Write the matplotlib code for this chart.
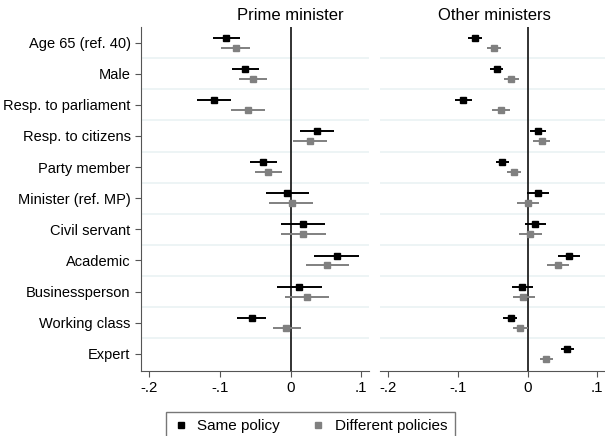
import numpy as np
import matplotlib
matplotlib.use("Agg")
import matplotlib.pyplot as plt
from matplotlib.lines import Line2D

plt.rcParams['font.family'] = ['Liberation Sans', 'DejaVu Sans']

labels = ["Age 65 (ref. 40)", "Male", "Resp. to parliament", "Resp. to citizens",
          "Party member", "Minister (ref. MP)", "Civil servant", "Academic",
          "Businessperson", "Working class", "Expert"]

# Prime minister panel: estimate, lower CI, upper CI
pm_same = [-0.092, -0.065, -0.108, 0.038, -0.039, -0.005, 0.017, 0.065, 0.012, -0.055, np.nan]
pm_same_lo = [-0.110, -0.083, -0.132, 0.013, -0.058, -0.035, -0.014, 0.033, -0.019, -0.076, np.nan]
pm_same_hi = [-0.072, -0.045, -0.085, 0.061, -0.019, 0.026, 0.048, 0.097, 0.044, -0.035, np.nan]
pm_diff = [-0.078, -0.053, -0.061, 0.028, -0.032, 0.002, 0.018, 0.052, 0.023, -0.006, np.nan]
pm_diff_lo = [-0.098, -0.073, -0.085, 0.003, -0.051, -0.030, -0.013, 0.022, -0.008, -0.025, np.nan]
pm_diff_hi = [-0.058, -0.033, -0.037, 0.052, -0.012, 0.032, 0.050, 0.083, 0.054, 0.014, np.nan]

# Other ministers panel
om_same = [-0.075, -0.044, -0.093, 0.015, -0.037, 0.015, 0.011, 0.060, -0.008, -0.024, 0.057]
om_same_lo = [-0.085, -0.054, -0.104, 0.003, -0.046, -0.001, -0.004, 0.044, -0.023, -0.035, 0.048]
om_same_hi = [-0.065, -0.035, -0.080, 0.026, -0.027, 0.030, 0.027, 0.075, 0.007, -0.016, 0.067]
om_diff = [-0.049, -0.024, -0.039, 0.020, -0.020, 0.000, 0.003, 0.043, -0.006, -0.011, 0.027]
om_diff_lo = [-0.058, -0.034, -0.051, 0.008, -0.030, -0.016, -0.013, 0.028, -0.021, -0.021, 0.017]
om_diff_hi = [-0.038, -0.013, -0.026, 0.032, -0.010, 0.016, 0.020, 0.059, 0.010, 0.000, 0.037]

xticks = [-0.2, -0.1, 0, 0.1]
xticklabels = ["-.2", "-.1", "0", ".1"]

BLACK = "#000000"
GRAY = "#808080"
GRID = "#eaf2f3"
SPINE = "#555555"

fig = plt.figure(figsize=(6.05, 4.36), dpi=100)
ax1 = fig.add_axes([141 / 605, 65 / 436, 228 / 605, 344 / 436])
ax2 = fig.add_axes([380 / 605, 65 / 436, 225 / 605, 344 / 436])

y = np.arange(len(labels))


def draw_panel(ax, same, same_lo, same_hi, diff, diff_lo, diff_hi, show_labels):
    for k in range(len(labels) - 1):
        ax.axhline(k + 0.5, color=GRID, lw=1.2, zorder=0)
    ax.axvline(0, color="#222222", lw=1.3, zorder=1)
    same = np.array(same); diff = np.array(diff)
    ax.hlines(y - 0.16, same_lo, same_hi, color=BLACK, lw=1.4, zorder=2)
    ax.plot(same, y - 0.16, "s", color=BLACK, ms=4.8, zorder=3)
    ax.hlines(y + 0.16, diff_lo, diff_hi, color=GRAY, lw=1.4, zorder=2)
    ax.plot(diff, y + 0.16, "s", color=GRAY, ms=4.6, zorder=3)
    ax.set_xlim(-0.212, 0.111)
    ax.set_ylim(10.55, -0.5)
    ax.set_xticks(xticks)
    ax.set_xticklabels(xticklabels, fontsize=10.8)
    for s in ["top", "right"]:
        ax.spines[s].set_visible(False)
    ax.spines["bottom"].set_color(SPINE)
    ax.tick_params(axis="x", colors=SPINE, labelcolor="black", length=4)
    if show_labels:
        ax.set_yticks(y)
        ax.set_yticklabels(labels, fontsize=10.5)
        ax.spines["left"].set_color(SPINE)
        ax.tick_params(axis="y", colors=SPINE, labelcolor="black", length=4)
    else:
        ax.set_yticks([])
        ax.spines["left"].set_visible(False)


draw_panel(ax1, pm_same, pm_same_lo, pm_same_hi,
           pm_diff, pm_diff_lo, pm_diff_hi, True)
draw_panel(ax2, om_same, om_same_lo, om_same_hi,
           om_diff, om_diff_lo, om_diff_hi, False)

# panel titles
fig.text(290 / 605, 1 - 15 / 436, "Prime minister", ha="center", va="center", fontsize=12)
fig.text(494 / 605, 1 - 15 / 436, "Other ministers", ha="center", va="center", fontsize=12)

handles = [Line2D([], [], marker="s", ls="none", color=BLACK, ms=4),
           Line2D([], [], marker="s", ls="none", color=GRAY, ms=4)]
leg = fig.legend(handles, ["Same policy", "Different policies"], loc="upper center",
                 bbox_to_anchor=(0.513, 0.072), ncol=2, fontsize=11, frameon=True,
                 fancybox=False, edgecolor=SPINE, handlelength=1.0, handletextpad=0.6,
                 columnspacing=2.0, borderpad=0.45)
leg.get_frame().set_linewidth(1.0)

fig.savefig("out.png", dpi=100)
